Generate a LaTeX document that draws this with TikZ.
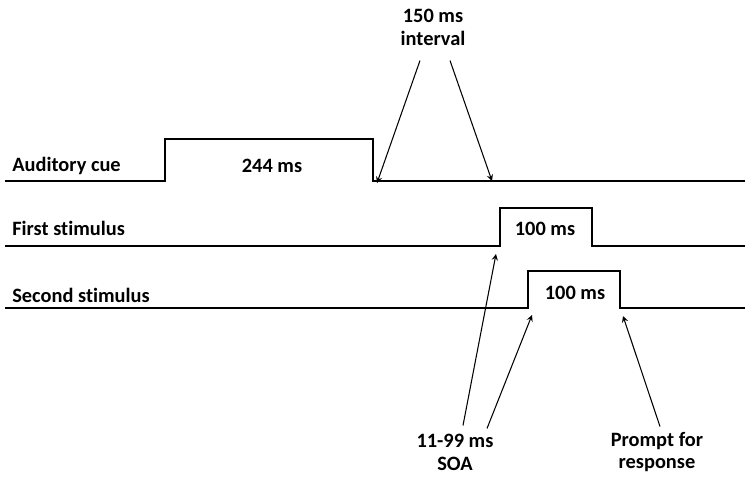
\documentclass[tikz,border=0pt]{standalone}
\usepackage{fontspec}
\setmainfont{Carlito}[Ligatures=NoCommon]
\usepackage{tikz}
\usetikzlibrary{calc}

\begin{document}
\begin{tikzpicture}[x=0.02cm,y=-0.02cm,
        wave/.style={black,line width=1.7pt},
        lbl/.style={font=\bfseries\fontsize{11.6}{13}\selectfont,inner sep=0pt},
        pointer/.style={->,>=stealth,black,line width=0.6pt}]
        \useasboundingbox (0,0) rectangle (745,484);
        % Auditory cue
        \draw[wave](5,181)--(165,181)--(165,139)--(373,139)--(373,181)coordinate(cueoff)--(492,181)coordinate(gapend)--(745,181);
        \node[lbl,anchor=west](cue) at (12,166){Auditory cue};
        \node[lbl](cuedur) at (272,166){244 ms};
        % First stimulus
        \draw[wave](5,246)--(500,246)coordinate(firston)--(500,208)--(592,208)--(592,246)--(745,246);
        \node[lbl,anchor=west](first) at (12,228){First stimulus};
        \node[lbl](firstdur) at (545,229){100 ms};
        % Second stimulus
        \draw[wave](5,308)--(528,308)coordinate(secondon)--(528,271)--(620,271)--(620,308)coordinate(secondoff)--(745,308);
        \node[lbl,anchor=west](second) at (12,295){Second stimulus};
        \node[lbl](seconddur) at (575,293){100 ms};
        % Annotations
        \node[lbl,align=center](interval) at (433,27){150 ms\\interval};
        \node[lbl,align=center](soa) at (455,452){11-99 ms\\SOA};
        \node[lbl,align=center](prompt) at (657,452){Prompt for\\response};
        % Pointers
        \draw[pointer]([shift={(-13,15)}]interval.south)--([shift={(4,2)}]cueoff);
        \draw[pointer]([shift={(17,15)}]interval.south)--(gapend);
        \draw[pointer]([shift={(8,-8)}]soa.north)--([shift={(-4,8)}]firston);
        \draw[pointer]([shift={(32,-5)}]soa.north)--([shift={(4,7)}]secondon);
        \draw[pointer]([shift={(3,-5)}]prompt.north)--([shift={(3,8)}]secondoff);
\end{tikzpicture}
\end{document}
